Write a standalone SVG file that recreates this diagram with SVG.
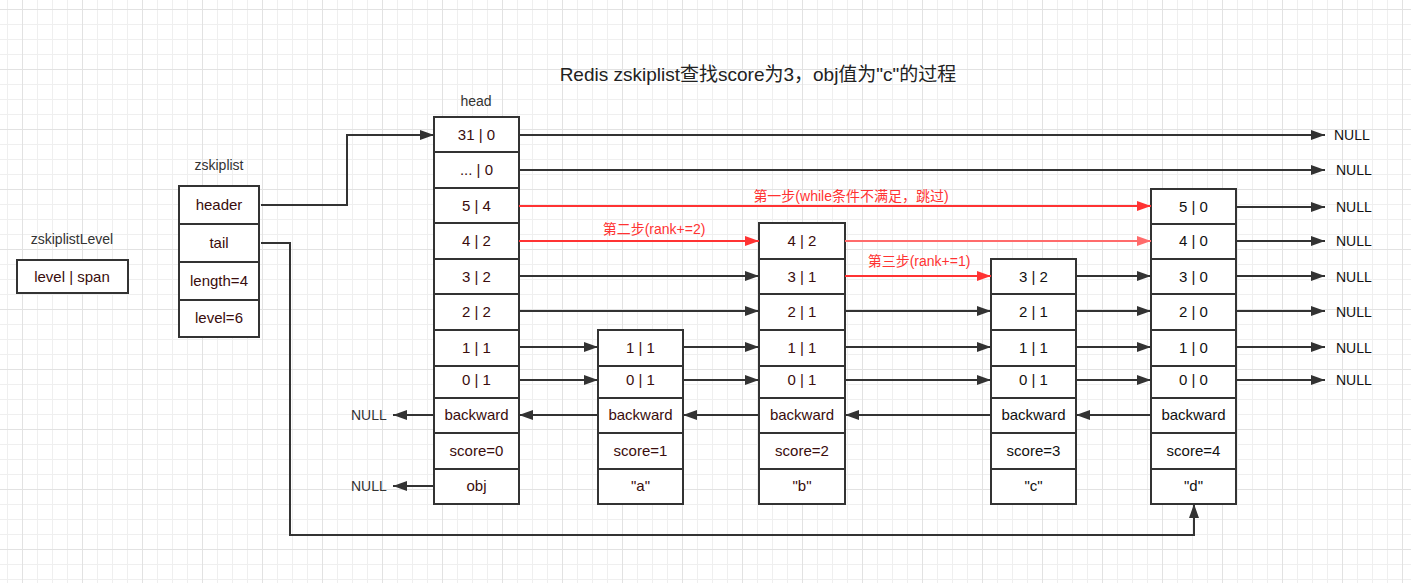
<svg xmlns="http://www.w3.org/2000/svg" width="1411" height="583" viewBox="0 0 1411 583">
<style>
.cell{fill:#fff;stroke:#333;stroke-width:2}
.t{font-family:"Liberation Sans",Arial,"Noto Sans CJK SC",sans-serif;font-size:15px;text-anchor:middle;fill:#3a0d0d}
.tk{fill:#111}
.lbl{font-family:"Liberation Sans",Arial,"Noto Sans CJK SC",sans-serif;font-size:14px;fill:#333}
.null{font-family:"Liberation Sans",Arial,sans-serif;font-size:14px;fill:#111}
.red{font-family:"Liberation Sans",Arial,"Noto Sans CJK SC",sans-serif;font-size:14px;fill:#f33;text-anchor:middle}
.c{fill:none;stroke:#333;stroke-width:2;marker-end:url(#ab)}
.cr{fill:none;stroke:#f33;stroke-width:2;marker-end:url(#ar)}
.cl{fill:none;stroke:#ff6b6b;stroke-width:2;marker-end:url(#al)}
</style>
<defs>
<pattern id="gmin" x="7" y="9" width="15" height="15" patternUnits="userSpaceOnUse"><path d="M0,0.5H15M0.5,0V15" fill="none" stroke="#efefef" stroke-width="1"/></pattern>
<pattern id="gmaj" x="22" y="9" width="60" height="60" patternUnits="userSpaceOnUse"><path d="M0,0.5H60M0.5,0V60" fill="none" stroke="#e2e2e2" stroke-width="1"/></pattern>
<marker id="ab" viewBox="0 0 14 10" refX="14" refY="5" markerWidth="14" markerHeight="10" markerUnits="userSpaceOnUse" orient="auto"><path d="M0,0L14,5L0,10z" fill="#333"/></marker>
<marker id="ar" viewBox="0 0 14 10" refX="14" refY="5" markerWidth="14" markerHeight="10" markerUnits="userSpaceOnUse" orient="auto"><path d="M0,0L14,5L0,10z" fill="#f33"/></marker>
<marker id="al" viewBox="0 0 14 10" refX="14" refY="5" markerWidth="14" markerHeight="10" markerUnits="userSpaceOnUse" orient="auto"><path d="M0,0L14,5L0,10z" fill="#ff6b6b"/></marker>
</defs>
<rect width="1411" height="583" fill="#fff"/>
<rect width="1411" height="583" fill="url(#gmin)"/>
<rect width="1411" height="583" fill="url(#gmaj)"/>

<text x="758" y="81" text-anchor="middle" style="font-family:'Liberation Sans',Arial,'Noto Sans CJK SC',sans-serif;font-size:19px;fill:#222">Redis zskiplist查找score为3，obj值为"c"的过程</text>

<g id="zskiplistLevel">
<text class="lbl" x="72" y="244" text-anchor="middle">zskiplistLevel</text>
<rect class="cell" x="17" y="260" width="111" height="33"/>
<text class="t" x="72" y="282">level | span</text>
</g>

<g id="zskiplist">
<text class="lbl" x="219" y="170" text-anchor="middle">zskiplist</text>
<rect class="cell" x="179" y="186" width="80" height="38"/>
<rect class="cell" x="179" y="224" width="80" height="38"/>
<rect class="cell" x="179" y="262" width="80" height="38"/>
<rect class="cell" x="179" y="300" width="80" height="37"/>
<text class="t" x="219" y="210">header</text>
<text class="t" x="219" y="248">tail</text>
<text class="t" x="219" y="286">length=4</text>
<text class="t" x="219" y="323">level=6</text>
</g>

<g id="head">
<text class="lbl" x="476" y="106" text-anchor="middle">head</text>
<rect class="cell" x="434" y="117" width="85" height="35"/>
<rect class="cell" x="434" y="152" width="85" height="36"/>
<rect class="cell" x="434" y="188" width="85" height="35"/>
<rect class="cell" x="434" y="223" width="85" height="36"/>
<rect class="cell" x="434" y="259" width="85" height="35"/>
<rect class="cell" x="434" y="294" width="85" height="36"/>
<rect class="cell" x="434" y="330" width="85" height="36"/>
<rect class="cell" x="434" y="366" width="85" height="32"/>
<rect class="cell" x="434" y="398" width="85" height="35"/>
<rect class="cell" x="434" y="433" width="85" height="36"/>
<rect class="cell" x="434" y="469" width="85" height="35"/>
<text class="t" x="476.5" y="140">31 | 0</text>
<text class="t" x="476.5" y="175">... | 0</text>
<text class="t" x="476.5" y="211">5 | 4</text>
<text class="t" x="476.5" y="246">4 | 2</text>
<text class="t" x="476.5" y="282">3 | 2</text>
<text class="t" x="476.5" y="317">2 | 2</text>
<text class="t" x="476.5" y="353">1 | 1</text>
<text class="t" x="476.5" y="385">0 | 1</text>
<text class="t" x="476.5" y="420">backward</text>
<text class="t" x="476.5" y="456">score=0</text>
<text class="t" x="476.5" y="491">obj</text>
</g>

<g id="node-a">
<rect class="cell" x="598" y="330" width="85" height="36"/>
<rect class="cell" x="598" y="366" width="85" height="32"/>
<rect class="cell" x="598" y="398" width="85" height="35"/>
<rect class="cell" x="598" y="433" width="85" height="36"/>
<rect class="cell" x="598" y="469" width="85" height="35"/>
<text class="t" x="640.5" y="353">1 | 1</text>
<text class="t" x="640.5" y="385">0 | 1</text>
<text class="t" x="640.5" y="420">backward</text>
<text class="t" x="640.5" y="456">score=1</text>
<text class="t" x="640.5" y="491">"a"</text>
</g>

<g id="node-b">
<rect class="cell" x="759" y="223" width="86" height="36"/>
<rect class="cell" x="759" y="259" width="86" height="35"/>
<rect class="cell" x="759" y="294" width="86" height="36"/>
<rect class="cell" x="759" y="330" width="86" height="36"/>
<rect class="cell" x="759" y="366" width="86" height="32"/>
<rect class="cell" x="759" y="398" width="86" height="35"/>
<rect class="cell" x="759" y="433" width="86" height="36"/>
<rect class="cell" x="759" y="469" width="86" height="35"/>
<text class="t" x="802" y="246">4 | 2</text>
<text class="t" x="802" y="282">3 | 1</text>
<text class="t" x="802" y="317">2 | 1</text>
<text class="t" x="802" y="353">1 | 1</text>
<text class="t" x="802" y="385">0 | 1</text>
<text class="t" x="802" y="420">backward</text>
<text class="t" x="802" y="456">score=2</text>
<text class="t" x="802" y="491">"b"</text>
</g>

<g id="node-c">
<rect class="cell" x="991" y="259" width="85" height="35"/>
<rect class="cell" x="991" y="294" width="85" height="36"/>
<rect class="cell" x="991" y="330" width="85" height="36"/>
<rect class="cell" x="991" y="366" width="85" height="32"/>
<rect class="cell" x="991" y="398" width="85" height="35"/>
<rect class="cell" x="991" y="433" width="85" height="36"/>
<rect class="cell" x="991" y="469" width="85" height="35"/>
<text class="t tk" x="1033.5" y="282">3 | 2</text>
<text class="t tk" x="1033.5" y="317">2 | 1</text>
<text class="t tk" x="1033.5" y="353">1 | 1</text>
<text class="t tk" x="1033.5" y="385">0 | 1</text>
<text class="t tk" x="1033.5" y="420">backward</text>
<text class="t tk" x="1033.5" y="456">score=3</text>
<text class="t tk" x="1033.5" y="491">"c"</text>
</g>

<g id="node-d">
<rect class="cell" x="1151" y="189" width="85" height="35"/>
<rect class="cell" x="1151" y="224" width="85" height="35"/>
<rect class="cell" x="1151" y="259" width="85" height="35"/>
<rect class="cell" x="1151" y="294" width="85" height="36"/>
<rect class="cell" x="1151" y="330" width="85" height="36"/>
<rect class="cell" x="1151" y="366" width="85" height="32"/>
<rect class="cell" x="1151" y="398" width="85" height="35"/>
<rect class="cell" x="1151" y="433" width="85" height="36"/>
<rect class="cell" x="1151" y="469" width="85" height="35"/>
<text class="t tk" x="1193.5" y="212">5 | 0</text>
<text class="t tk" x="1193.5" y="246">4 | 0</text>
<text class="t tk" x="1193.5" y="282">3 | 0</text>
<text class="t tk" x="1193.5" y="317">2 | 0</text>
<text class="t tk" x="1193.5" y="353">1 | 0</text>
<text class="t tk" x="1193.5" y="385">0 | 0</text>
<text class="t tk" x="1193.5" y="420">backward</text>
<text class="t tk" x="1193.5" y="456">score=4</text>
<text class="t tk" x="1193.5" y="491">"d"</text>
</g>

<g id="connectors">
<path class="c" d="M261,205H347V135H434"/>
<path class="c" d="M261,243H290V535H1194V504"/>
<path class="c" d="M519,135H1325"/>
<path class="c" d="M519,170H1325"/>
<path class="cr" d="M519,206H1151"/>
<path class="cr" d="M519,241H759"/>
<path class="cl" d="M845,241H1151"/>
<path class="c" d="M519,276H759"/>
<path class="cr" d="M845,276H991"/>
<path class="c" d="M1076,276H1151"/>
<path class="c" d="M519,311H759"/>
<path class="c" d="M845,311H991"/>
<path class="c" d="M1076,311H1151"/>
<path class="c" d="M519,347H598"/>
<path class="c" d="M683,347H759"/>
<path class="c" d="M845,347H991"/>
<path class="c" d="M1076,347H1151"/>
<path class="c" d="M519,380H598"/>
<path class="c" d="M683,380H759"/>
<path class="c" d="M845,380H991"/>
<path class="c" d="M1076,380H1151"/>
<path class="c" d="M1236,207H1325"/>
<path class="c" d="M1236,241H1325"/>
<path class="c" d="M1236,276H1325"/>
<path class="c" d="M1236,311H1325"/>
<path class="c" d="M1236,347H1325"/>
<path class="c" d="M1236,380H1325"/>
<path class="c" d="M434,415H393"/>
<path class="c" d="M598,415H519"/>
<path class="c" d="M759,415H683"/>
<path class="c" d="M991,415H845"/>
<path class="c" d="M1151,415H1076"/>
<path class="c" d="M434,486H393"/>
<text class="red" x="851" y="201">第一步(while条件不满足，跳过)</text>
<text class="red" x="654" y="234">第二步(rank+=2)</text>
<text class="red" x="919" y="266">第三步(rank+=1)</text>
<text class="null" x="1334" y="140">NULL</text>
<text class="null" x="1336" y="175">NULL</text>
<text class="null" x="1336" y="212">NULL</text>
<text class="null" x="1336" y="246">NULL</text>
<text class="null" x="1336" y="282">NULL</text>
<text class="null" x="1336" y="317">NULL</text>
<text class="null" x="1336" y="353">NULL</text>
<text class="null" x="1336" y="385">NULL</text>
<text class="null" x="351" y="420" style="fill:#333">NULL</text>
<text class="null" x="351" y="491" style="fill:#333">NULL</text>
</g>
</svg>
